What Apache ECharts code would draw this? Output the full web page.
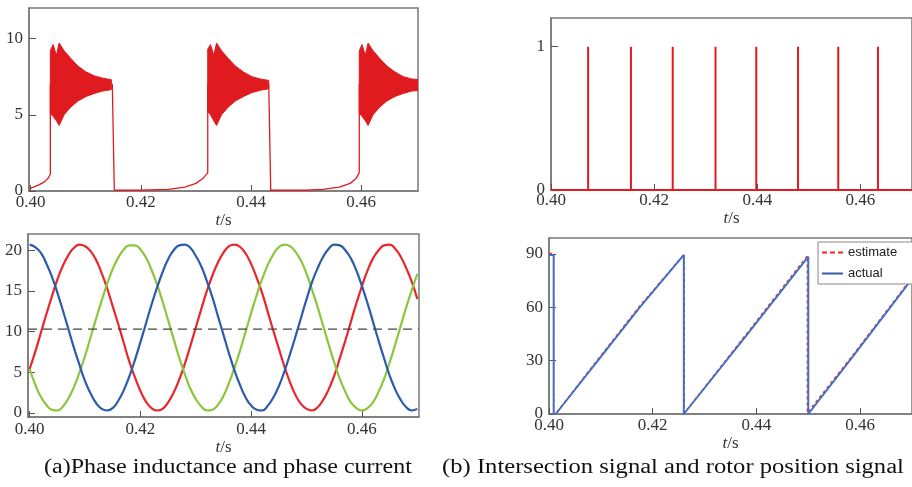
<!DOCTYPE html>
<html><head><meta charset="utf-8">
<script src="https://cdn.jsdelivr.net/npm/echarts@6/dist/echarts.min.js"></script>
<style>html,body{margin:0;padding:0;background:#fff}#c{width:912px;height:487px}</style>
</head><body><div id="c"></div>
<script>
// ================= DATA =================
const xTicks = [0.40, 0.42, 0.44, 0.46];

// (a) top: phase current — off-state / pre-rise trace [t, A]
const currentTrace = [
  [0.3997,0.15],[0.4005,0.25],[0.4015,0.4],[0.4025,0.6],[0.4032,0.85],[0.40357,1.1],[0.40357,7],
  [0.41482,7],[0.41518,0.05],[0.4200,0.05],[0.4250,0.1],[0.4280,0.25],[0.4300,0.5],[0.4312,0.8],[0.43214,1.2],[0.43214,7],
  [0.44321,7],[0.44357,0.05],[0.4500,0.05],[0.4530,0.1],[0.4560,0.25],[0.4580,0.5],[0.4590,0.8],[0.45964,1.2],[0.45964,7],
  [0.4703,7]
];
// chopping band: start times of each conduction period and offsets within it
const bandStarts  = [0.40357, 0.43214, 0.45964];
const bandOffsets = [0, 0.0005, 0.0011, 0.0016, 0.0025, 0.0037, 0.0050, 0.0065, 0.0080, 0.0095, 0.01107];
const bandUpper1 = [9.2, 9.6, 8.9, 9.7, 9.2, 8.7, 8.2, 7.8, 7.55, 7.4, 7.3];
const bandLower1 = [5.1, 4.9, 4.6, 4.3, 5.0, 5.5, 5.9, 6.2, 6.4, 6.55, 6.65];
const bandUpper2 = [9.3, 9.6, 8.9, 9.7, 9.2, 8.7, 8.2, 7.8, 7.5, 7.35, 7.25];
const bandLower2 = [5.2, 5.0, 4.6, 4.3, 5.0, 5.5, 5.9, 6.2, 6.45, 6.6, 6.7];
const bandUpper3 = [9.2, 9.6, 8.9, 9.7, 9.2, 8.7, 8.2, 7.8, 7.5, 7.35, 7.3];
const bandLower3 = [5.1, 4.9, 4.6, 4.3, 5.0, 5.5, 5.9, 6.2, 6.4, 6.55, 6.6];

// (a) bottom: phase inductances, sampled every 1 ms from 0.400 s
const sampleStart = 0.400, sampleStep = 0.001;
const inductBlue = [20.7,20.4,19.7,18.4,16.8,14.8,12.6,10.3,8.0,5.9,3.9,2.4,1.2,0.5,0.3,0.6,1.5,2.8,4.5,6.5,8.7,11.0,13.3,15.4,17.3,18.9,20.0,20.6,20.7,20.3,19.3,18.0,16.2,14.2,11.9,9.6,7.3,5.2,3.4,1.9,0.9,0.4,0.3,0.9,1.9,3.3,5.1,7.2,9.4,11.7,14.0,16.1,17.8,19.2,20.2,20.7,20.6,20.0,19.0,17.5,15.6,13.5,11.2,8.9,6.7,4.6,2.9,1.6,0.7,0.3,0.5];
const inductRed = [5.4,7.5,9.8,12.1,14.3,16.4,18.1,19.4,20.3,20.7,20.5,19.9,18.8,17.2,15.3,13.1,10.9,8.6,6.3,4.4,2.7,1.4,0.6,0.3,0.5,1.3,2.5,4.1,6.0,8.2,10.5,12.8,15.0,16.9,18.5,19.7,20.5,20.7,20.4,19.6,18.3,16.6,14.7,12.4,10.1,7.9,5.7,3.8,2.2,1.1,0.5,0.3,0.7,1.6,2.9,4.6,6.7,8.9,11.2,13.5,15.6,17.5,19.0,20.0,20.6,20.7,20.2,19.2,17.8,16.1,14.0];
const inductGreen = [5.4,3.5,2.0,1.0,0.4,0.3,0.8,1.8,3.2,5.0,7.0,9.3,11.6,13.8,15.9,17.7,19.1,20.1,20.6,20.6,20.1,19.1,17.6,15.8,13.7,11.4,9.1,6.8,4.8,3.0,1.7,0.8,0.3,0.4,1.0,2.1,3.7,5.6,7.7,10.0,12.3,14.5,16.5,18.2,19.5,20.4,20.7,20.5,19.8,18.7,17.1,15.1,13.0,10.7,8.4,6.2,4.2,2.6,1.3,0.6,0.3,0.6,1.3,2.6,4.2,6.2,8.4,10.7,13.0,15.1,17.1];
const currentRef = 10.3;

// (b) top: intersection pulses
const pulseTimes = [0.4072, 0.4155, 0.4236, 0.4319, 0.4398, 0.4479, 0.4557, 0.4634];

// (b) bottom: rotor position [t, deg]
const posActual = [[0.4000,89.5],[0.4009,89.5],[0.4009,0],[0.4013,0],[0.4090,28.5],[0.4175,60],[0.4260,89.5],[0.4260,0],[0.4262,0],[0.4380,44],[0.4500,88.5],[0.4500,0],[0.4585,32],[0.4700,76]];
const posEstimate = [[0.4000,90.3],[0.4009,90.3],[0.4009,0.6],[0.4014,0.6],[0.4090,29.2],[0.4175,60.8],[0.4261,90],[0.4261,0.6],[0.4263,0.6],[0.4380,44.8],[0.4498,89],[0.4498,0.6],[0.4585,32.8],[0.4700,76.8]];

// ================= CHART =================
const serif = 'Liberation Serif';
const RED = '#e01b1f', BLUE = '#2b5caa', GREEN = '#8cc63c', BLUE2 = '#4570c0';
const frame = '#7a7a7a';

function xAxisCfg(gi, min, max, gap, margin) {
  return {
    type: 'value', gridIndex: gi, min: min, max: max,
    axisLine: { show: true, onZero: false, lineStyle: { color: frame, width: 1.5 } },
    axisTick: { show: true, inside: true, length: 6, customValues: xTicks, lineStyle: { color: '#555' } },
    axisLabel: { customValues: xTicks, formatter: v => v.toFixed(2), fontFamily: serif, fontSize: 17, color: '#333', margin: margin },
    splitLine: { show: false },
    name: '{i|t}/s', nameLocation: 'middle', nameGap: gap,
    nameTextStyle: { fontFamily: serif, fontSize: 17, color: '#333',
      rich: { i: { fontStyle: 'italic', fontFamily: serif, fontSize: 17, color: '#333' } } }
  };
}
function yAxisCfg(gi, min, max, ticks) {
  return {
    type: 'value', gridIndex: gi, min: min, max: max,
    axisLine: { show: true, onZero: false, lineStyle: { color: frame, width: 1.5 } },
    axisTick: { show: true, inside: true, length: 7, customValues: ticks, lineStyle: { color: '#555' } },
    axisLabel: { customValues: ticks, fontFamily: serif, fontSize: 17, color: '#333', margin: 6 },
    splitLine: { show: false }
  };
}

const series = [];
// (a) top
series.push({ type: 'line', xAxisIndex: 0, yAxisIndex: 0, data: currentTrace, symbol: 'none',
  lineStyle: { color: RED, width: 1.3 }, z: 3 });
const uppers = [bandUpper1, bandUpper2, bandUpper3];
const lowers = [bandLower1, bandLower2, bandLower3];
series.push({
  type: 'custom', xAxisIndex: 0, yAxisIndex: 0, clip: true, z: 4,
  data: bandStarts.map((s, k) => [s, uppers[k][0]]),
  encode: { x: 0, y: 1 },
  renderItem: function (params, api) {
    const k = params.dataIndex, s = bandStarts[k];
    const pts = [];
    bandOffsets.forEach((o, i) => pts.push(api.coord([s + o, uppers[k][i]])));
    for (let i = bandOffsets.length - 1; i >= 0; i--) pts.push(api.coord([s + bandOffsets[i], lowers[k][i]]));
    return { type: 'polygon', shape: { points: pts, smooth: 0 },
      style: { fill: RED, stroke: RED, lineWidth: 1, lineJoin: 'round' } };
  }
});
// (a) bottom
const toPts = arr => arr.map((v, i) => [sampleStart + i * sampleStep, v]);
[[inductRed, '#e8262b'], [inductGreen, GREEN], [inductBlue, BLUE]].forEach(([arr, c]) => {
  series.push({ type: 'line', xAxisIndex: 1, yAxisIndex: 1, data: toPts(arr), smooth: true, symbol: 'none',
    lineStyle: { color: c, width: 2.2 } });
});
series.push({ type: 'line', xAxisIndex: 1, yAxisIndex: 1, data: [[0.3997, currentRef], [0.4703, currentRef]], symbol: 'none',
  lineStyle: { color: '#444', width: 1.2, type: [9, 6] } });
// (b) top
const pulses = [[0.40, 0]];
pulseTimes.forEach(t => { pulses.push([t, 0], [t, 1], [t, 0]); });
pulses.push([0.47, 0]);
series.push({ type: 'line', xAxisIndex: 2, yAxisIndex: 2, data: pulses, symbol: 'none',
  lineStyle: { color: RED, width: 2 } });
// (b) bottom
series.push({ type: 'line', name: 'estimate', color: '#ff2020', xAxisIndex: 3, yAxisIndex: 3, data: posEstimate, symbol: 'none',
  lineStyle: { color: '#ff2020', width: 1.3, type: [3, 3] }, z: 2 });
series.push({ type: 'line', name: 'actual', color: '#3a5aa8', xAxisIndex: 3, yAxisIndex: 3, data: posActual, symbol: 'none',
  lineStyle: { color: BLUE2, width: 2 }, z: 3 });

const chart = echarts.init(document.getElementById('c'), null, { renderer: 'canvas' });
chart.setOption({
  animation: false,
  backgroundColor: '#fff',
  grid: [
    { left: 29, top: 8, right: 494, bottom: 296, show: true, borderColor: frame, borderWidth: 1.5 },
    { left: 28, top: 234, right: 493, bottom: 70, show: true, borderColor: frame, borderWidth: 1.5 },
    { left: 551, top: 18, right: -9, bottom: 297, show: true, borderColor: frame, borderWidth: 1.5 },
    { left: 549, top: 238, right: -9, bottom: 73, show: true, borderColor: frame, borderWidth: 1.5 }
  ],
  xAxis: [
    xAxisCfg(0, 0.3997, 0.4703, 17, 3),
    xAxisCfg(1, 0.3997, 0.4703, 21, 4),
    xAxisCfg(2, 0.40, 0.47, 18, 2),
    xAxisCfg(3, 0.40, 0.47, 18, 3)
  ],
  yAxis: [
    yAxisCfg(0, 0, 12, [0, 5, 10]),
    yAxisCfg(1, -0.5, 22, [0, 5, 10, 15, 20]),
    yAxisCfg(2, 0, 1.2, [0, 1]),
    yAxisCfg(3, 0, 99, [0, 30, 60, 90])
  ],
  legend: {
    data: [
      { name: 'estimate', icon: 'path://M0,0h5v2h-5z M8,0h5v2h-5z M16,0h5v2h-5z' },
      { name: 'actual', icon: 'path://M0,0h21v2h-21z' }
    ],
    orient: 'vertical', left: 818, top: 242,
    itemWidth: 21, itemHeight: 2, itemGap: 8,
    padding: [4, 16, 4, 4], borderColor: '#888', borderWidth: 1, backgroundColor: '#fff',
    textStyle: { fontFamily: 'Liberation Sans', fontSize: 13, color: '#222' }
  },
  graphic: [
    { type: 'text', x: 228, y: 468, scaleX: 1.2, style: { text: '(a)Phase inductance and phase current', fontFamily: serif, fontSize: 20, fill: '#111', align: 'center', verticalAlign: 'middle' } },
    { type: 'text', x: 673, y: 468, scaleX: 1.23, style: { text: '(b) Intersection signal and rotor position signal', fontFamily: serif, fontSize: 20, fill: '#111', align: 'center', verticalAlign: 'middle' } }
  ],
  series: series
});
</script></body></html>
